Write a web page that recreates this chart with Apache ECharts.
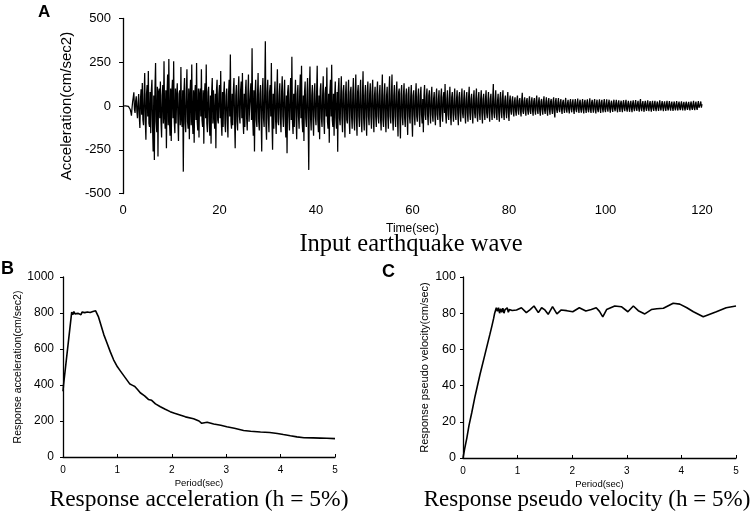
<!DOCTYPE html>
<html>
<head>
<meta charset="utf-8">
<script src="https://cdn.jsdelivr.net/npm/echarts@6/dist/echarts.min.js"></script>
<style>html,body{margin:0;padding:0;background:#fff}#c{width:754px;height:518px}</style>
</head>
<body>
<div id="c"></div>
<script>
// ---- Panel A: input earthquake wave (sampled every DT seconds, one row = 5 s) ----
var DT = 0.125;
var wave = [
  0,0,0,0,1,0,-2,1,3,-2,-5,2,-20,-35,-55,-10,25,50,78,-20,-40,30,55,-30,-70,20,68,-60,-126,40,95,-50,132,-80,-110,60,189,-90,-193,70,
  120,-60,200,-100,-120,80,-155,90,150,-120,-260,60,-308,100,246,-90,-150,110,-289,80,100,-70,140,-90,-180,60,120,-100,256,-60,-130,90,-241,70,180,-110,269,-80,-170,100,
  -200,80,150,-70,256,-90,-155,100,-100,60,130,-80,-200,70,90,-110,223,-70,-120,90,-375,80,160,-100,-150,70,210,-90,-130,100,-190,60,150,-110,237,-80,-160,90,-210,70,
  120,-80,246,-90,-140,100,-180,70,100,-60,210,-80,-120,90,-215,60,130,-70,237,-100,-150,80,110,-90,-170,60,-215,80,160,-100,90,-60,-130,70,-241,90,150,-80,-100,70,
  120,-70,200,-90,-170,80,-120,70,140,-100,-150,60,100,-80,-180,70,150,-60,294,-90,-130,70,-110,90,160,-80,-241,60,120,-90,-140,80,170,-60,-100,90,140,-70,189,-80,
  -160,70,-120,80,150,-70,-140,60,180,-90,-100,70,130,-80,330,-60,-170,90,-260,70,150,-80,-120,60,189,-90,-140,70,120,-60,-260,80,160,-70,-120,90,370,-100,-193,80,
  150,-70,-150,80,120,-60,246,-90,-250,70,-130,60,140,-80,-160,70,210,-90,-110,60,130,-70,-150,80,170,-60,-120,70,150,-90,-180,60,-270,80,120,-60,-140,70,160,-80,
  281,-90,-160,70,-120,60,150,-80,-190,70,120,-60,-130,80,180,-70,230,-90,-150,60,-200,80,140,-70,-120,60,160,-80,-365,90,225,-70,-140,60,120,-80,-170,70,130,-60,
  -110,70,230,-80,-150,60,-190,90,130,-70,-120,60,170,-80,-160,70,110,-60,220,-90,-130,70,-210,80,150,-60,235,-80,-120,70,-170,60,140,-70,-130,80,-262,90,160,-70,
  -110,60,170,-70,-150,80,120,-60,-180,70,140,-80,-100,60,150,-70,-160,80,110,-60,-130,70,160,-80,-140,60,180,-70,-170,80,120,-60,-120,70,150,-80,-150,60,198,-70,
  -140,60,120,-70,-170,80,140,-60,-110,70,130,-60,-130,80,150,-70,-150,60,110,-60,-120,70,140,-60,-100,60,120,-70,-140,60,180,-80,-120,60,130,-70,-150,60,110,-60,
  -130,70,170,-60,-100,60,180,-70,-140,60,120,-60,-120,70,140,-60,-174,80,100,-60,-185,70,120,-60,-110,60,130,-70,-120,60,100,-50,-165,70,110,-60,-100,50,120,-60,
  -175,60,90,-50,-110,60,130,-60,-90,50,100,-50,-120,60,110,-50,-100,40,-150,60,120,-50,-80,50,100,-50,-110,60,90,-40,-100,50,110,-50,-90,40,80,-50,-110,50,
  100,-50,-80,40,90,-50,-120,50,100,-40,-90,50,80,-40,125,-50,-100,40,90,-50,-80,40,110,-50,-110,50,80,-40,-90,40,100,-50,-80,40,90,-40,-110,50,80,-40,
  -90,40,100,-40,-70,40,90,-50,-100,40,80,-40,-90,50,110,-40,-80,40,70,-40,-100,40,90,-40,-70,40,100,-50,-90,40,80,-40,-80,40,90,-40,-100,40,70,-40,
  -80,40,90,-40,-70,30,80,-40,-90,40,70,-30,-80,40,125,-40,-70,30,90,-40,-80,30,70,-40,-90,40,80,-30,-70,40,90,-40,-80,30,60,-30,-70,30,80,-40,
  -85,30,60,-30,-50,30,55,-30,-60,25,50,-30,-55,30,60,-25,-50,30,45,-25,-60,30,75,-30,-45,25,50,-25,-55,30,45,-25,-50,25,55,-30,-45,25,50,-25,
  -55,25,45,-25,-50,30,60,-25,-45,25,50,-30,-55,25,40,-20,-50,25,55,-25,-45,20,50,-25,-55,25,45,-20,-50,25,40,-20,-45,25,50,-30,-65,25,45,-20,
  -40,20,45,-20,-35,20,40,-20,-45,20,35,-15,-40,20,46,-20,-38,15,35,-20,-42,20,40,-15,-36,20,38,-20,-45,15,40,-20,-35,20,42,-15,-40,20,36,-20,
  -38,15,40,-20,-42,20,35,-15,-40,20,38,-20,-36,15,44,-20,-40,20,35,-15,-38,20,40,-20,-42,15,36,-20,-35,15,38,-15,-40,20,35,-15,-37,15,40,-20,
  -35,15,38,-15,-32,15,36,-15,-38,15,30,-15,-34,15,36,-15,-30,15,35,-15,-36,15,32,-12,-34,15,30,-12,-35,15,33,-12,-30,15,35,-15,-32,12,30,-12,
  -33,12,30,-12,-35,15,32,-12,-30,12,34,-12,-28,12,30,-12,-32,15,40,-12,-30,12,28,-12,-33,12,30,-12,-28,12,32,-12,-30,12,28,-12,-32,12,30,-12,
  -28,12,30,-12,-30,10,26,-10,-28,12,32,-10,-26,10,28,-10,-30,12,27,-10,-28,10,30,-12,-26,10,28,-10,-27,10,25,-10,-28,10,26,-10,-25,10,28,-10,
  -26,10,25,-10,-24,10,27,-10,-25,10,24,-10,-26,10,25,-10,-22,10,24,-10,-25,10,26,-10,-22,10,30,-10,-24,10,25,-10,-22,10,28,-10,-20,10,26,-10,
  10
];
var waveYTicks = [-500, -250, 0, 250, 500];
var waveXTicks = [0, 20, 40, 60, 80, 100, 120];

// ---- Panel B: response acceleration spectrum ----
var accPeriod = [0,0.01,0.16,0.18,0.2,0.22,0.25,0.28,0.3,0.33,0.35,0.38,0.4,0.43,0.45,0.48,0.5,0.53,0.55,0.58,0.6,0.62,0.65,0.7,0.75,0.8,0.87,0.93,1.0,1.05,1.11,1.17,1.23,1.28,1.32,1.37,1.42,1.5,1.57,1.6,1.63,1.7,1.79,1.88,1.97,2.05,2.15,2.25,2.4,2.5,2.55,2.58,2.65,2.77,2.9,3.01,3.15,3.32,3.45,3.63,3.8,3.94,4.05,4.18,4.3,4.43,4.6,4.73,4.85,5.0];
var accValue  = [365,400,805,790,808,795,806,798,803,790,805,796,802,794,806,797,803,795,808,800,812,815,780,730,680,640,584,540,501,480,455,430,405,398,392,375,357,340,320,312,315,295,279,265,252,243,233,223,212,200,187,197,193,183,176,168,160,147,143,139,136,131,125,118,112,107,106,105,104,102];

// ---- Panel C: response pseudo velocity spectrum ----
var velPeriod = [0,0.03,0.07,0.11,0.16,0.22,0.31,0.4,0.49,0.53,0.56,0.58,0.61,0.63,0.65,0.67,0.69,0.71,0.73,0.75,0.77,0.79,0.81,0.83,0.85,0.87,0.9,0.98,1.07,1.16,1.23,1.30,1.38,1.44,1.5,1.56,1.64,1.72,1.80,1.9,2.01,2.13,2.25,2.35,2.44,2.5,2.56,2.63,2.78,2.9,3.02,3.12,3.21,3.33,3.45,3.55,3.67,3.85,3.97,4.1,4.22,4.4,4.64,4.82,5.0];
var velValue  = [0,5,11,18,25,34,46,57,68,73,77,80,83,81,83,80,82.5,80.5,82.8,80,82,81,83,80.5,82,81.5,81.5,81.8,83,80.3,82,84,80.3,83,81.8,79.4,83.6,79.6,81.8,81.4,80.8,83,81.2,82,83,81,78,82,84,83.6,80.8,84,81.4,79.6,82,82.5,82.7,85.5,85,83,80.8,78,80.8,83,84];

var SANS = 'Liberation Sans, Arial, sans-serif';
var SERIF = 'Liberation Serif, Times New Roman, serif';

var chart = echarts.init(document.getElementById('c'), null, {renderer: 'canvas'});

function pairs(xs, ys) { return xs.map(function (x, i) { return [x, ys[i]]; }); }
function plain(v) { return String(v); }

var axisLineStyle = {color: '#000', width: 1.3};

var option = {
  animation: false,
  backgroundColor: '#fff',
  grid: [
    {left: 123, top: 18.5, width: 579, height: 175},
    {left: 63, top: 277, width: 272, height: 180},
    {left: 463, top: 277, width: 273, height: 181}
  ],
  xAxis: [
    {gridIndex: 0, type: 'value', min: waveXTicks[0], max: waveXTicks[waveXTicks.length - 1], interval: 20,
     axisLine: {show: false}, axisTick: {show: false}, splitLine: {show: false},
     axisLabel: {color: '#000', fontSize: 13, fontFamily: SANS, margin: 10, formatter: plain},
     name: 'Time(sec)', nameLocation: 'middle', nameGap: 29,
     nameTextStyle: {color: '#000', fontSize: 12, fontFamily: SANS}},
    {gridIndex: 1, type: 'value', min: 0, max: 5, interval: 1,
     axisLine: {show: true, onZero: false, lineStyle: axisLineStyle},
     axisTick: {show: true, inside: true, length: 3, lineStyle: {color: '#000'}},
     splitLine: {show: false},
     axisLabel: {color: '#000', fontSize: 10, fontFamily: SANS, margin: 8, formatter: plain},
     name: 'Period(sec)', nameLocation: 'middle', nameGap: 21,
     nameTextStyle: {color: '#000', fontSize: 9.5, fontFamily: SANS}},
    {gridIndex: 2, type: 'value', min: 0, max: 5, interval: 1,
     axisLine: {show: true, onZero: false, lineStyle: axisLineStyle},
     axisTick: {show: true, inside: true, length: 3, lineStyle: {color: '#000'}},
     splitLine: {show: false},
     axisLabel: {color: '#000', fontSize: 10, fontFamily: SANS, margin: 8, formatter: plain},
     name: 'Period(sec)', nameLocation: 'middle', nameGap: 21,
     nameTextStyle: {color: '#000', fontSize: 9.5, fontFamily: SANS}}
  ],
  yAxis: [
    {gridIndex: 0, type: 'value', min: waveYTicks[0], max: waveYTicks[waveYTicks.length - 1], interval: 250,
     axisLine: {show: true, lineStyle: axisLineStyle},
     axisTick: {show: true, length: 4, lineStyle: {color: '#000'}},
     splitLine: {show: false},
     axisLabel: {color: '#000', fontSize: 13, fontFamily: SANS, margin: 12, formatter: plain},
     name: 'Acceleration(cm/sec2)', nameLocation: 'middle', nameGap: 35, nameRotate: 90,
     nameTextStyle: {color: '#000', fontSize: 15, fontFamily: SANS}},
    {gridIndex: 1, type: 'value', min: 0, max: 1000, interval: 200,
     axisLine: {show: true, lineStyle: axisLineStyle},
     axisTick: {show: true, length: 3, lineStyle: {color: '#000'}},
     splitLine: {show: false},
     axisLabel: {color: '#000', fontSize: 12, fontFamily: SANS, margin: 9, formatter: plain},
     name: 'Response acceleration(cm/sec2)', nameLocation: 'middle', nameGap: 31, nameRotate: 90,
     nameTextStyle: {color: '#000', fontSize: 10.5, fontFamily: SANS}},
    {gridIndex: 2, type: 'value', min: 0, max: 100, interval: 20,
     axisLine: {show: true, lineStyle: axisLineStyle},
     axisTick: {show: true, length: 3, lineStyle: {color: '#000'}},
     splitLine: {show: false},
     axisLabel: {color: '#000', fontSize: 12.5, fontFamily: SANS, margin: 7, formatter: plain},
     name: 'Response pseudo velocity(cm/sec)', nameLocation: 'middle', nameGap: 33, nameRotate: 90,
     nameTextStyle: {color: '#000', fontSize: 11, fontFamily: SANS}}
  ],
  series: [
    {type: 'line', xAxisIndex: 0, yAxisIndex: 0, showSymbol: false, symbol: 'none',
     data: wave.map(function (v, i) { return [i * DT, v]; }),
     lineStyle: {color: '#000', width: 1.25}},
    {type: 'line', xAxisIndex: 1, yAxisIndex: 1, showSymbol: false, symbol: 'none',
     data: pairs(accPeriod, accValue), lineStyle: {color: '#000', width: 1.6}},
    {type: 'line', xAxisIndex: 2, yAxisIndex: 2, showSymbol: false, symbol: 'none',
     data: pairs(velPeriod, velValue), lineStyle: {color: '#000', width: 1.6}}
  ],
  graphic: [
    {type: 'text', left: 38, top: 4, style: {text: 'A', font: 'bold 17px ' + SANS, fill: '#000'}},
    {type: 'text', left: 1, top: 260, style: {text: 'B', font: 'bold 18px ' + SANS, fill: '#000'}},
    {type: 'text', left: 382, top: 263, style: {text: 'C', font: 'bold 18px ' + SANS, fill: '#000'}},
    {type: 'text', x: 411, y: 245, style: {text: 'Input earthquake wave', font: '24.5px ' + SERIF, fill: '#000', textAlign: 'center', textVerticalAlign: 'middle'}},
    {type: 'text', x: 199, y: 500, style: {text: 'Response acceleration (h = 5%)', font: '23.5px ' + SERIF, fill: '#000', textAlign: 'center', textVerticalAlign: 'middle'}},
    {type: 'text', x: 587, y: 500, style: {text: 'Response pseudo velocity (h = 5%)', font: '23px ' + SERIF, fill: '#000', textAlign: 'center', textVerticalAlign: 'middle'}}
  ]
};
chart.setOption(option);
</script>
</body>
</html>
